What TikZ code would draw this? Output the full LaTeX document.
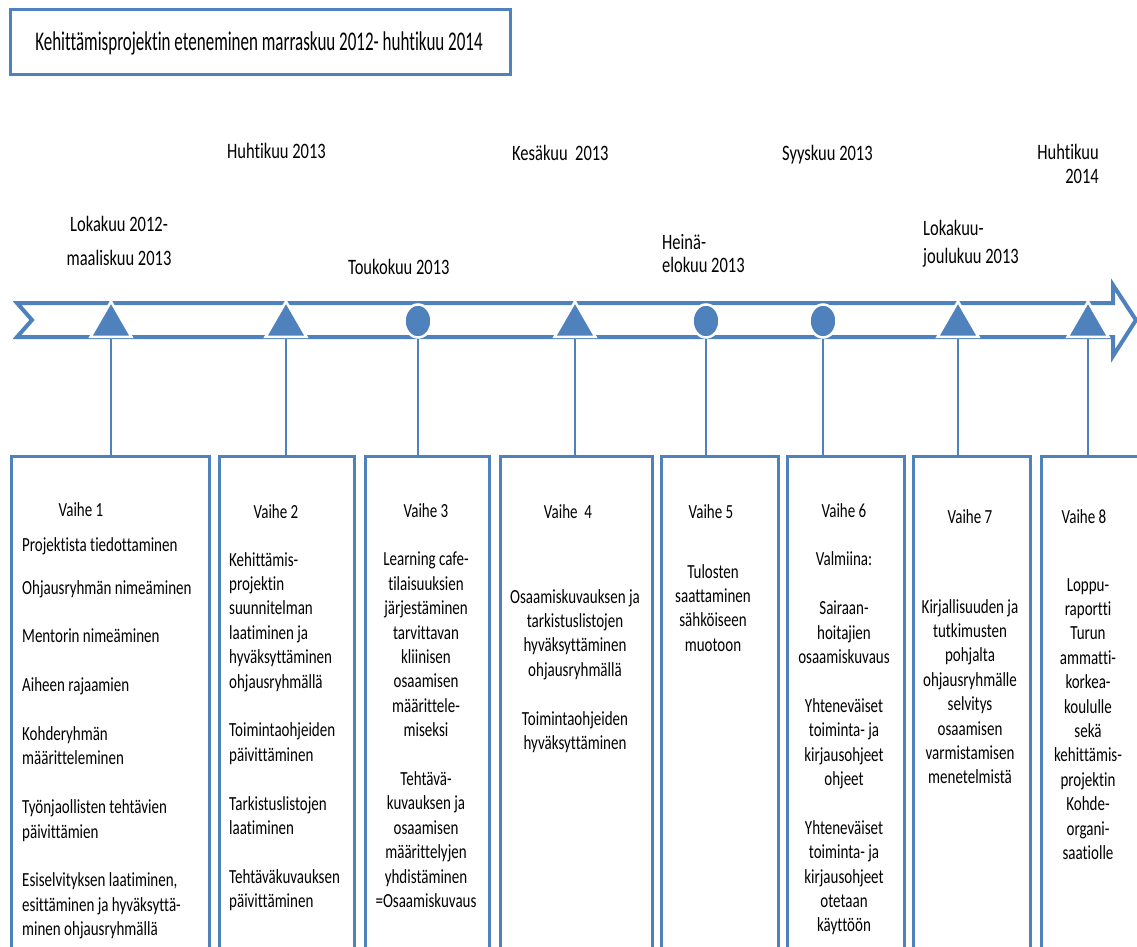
\documentclass[tikz,border=0pt]{standalone}
\usepackage{fontspec}
\setmainfont{Carlito}[FakeStretch=0.75, Ligatures=NoCommon]
\newfontfamily\titlefont{Carlito}[FakeStretch=0.63, Ligatures=NoCommon]
\usetikzlibrary{shapes.geometric}
\definecolor{tlblue}{HTML}{4F81BD}
% multi-line blocks whose baseline is the baseline of their first line
\newcommand{\blockC}[1]{\begin{tabular}[t]{@{}c@{}}#1\end{tabular}}
\newcommand{\blockL}[1]{\begin{tabular}[t]{@{}l@{}}#1\end{tabular}}
\newcommand{\blockR}[1]{\begin{tabular}[t]{@{}r@{}}#1\end{tabular}}
\tikzset{
  frame/.style={draw=tlblue, line width=3pt, fill=white},
  stagebox/.style={frame, anchor=north west, inner sep=0pt, minimum height=520pt},
  boxtxt/.style={font=\fontsize{20}{24.4}\selectfont, inner sep=0pt, anchor=base},
  listtxt/.style={boxtxt, anchor=base west},
  datetxt/.style={font=\fontsize{22}{24.4}\selectfont, inner sep=0pt, anchor=base west},
  tri/.style={regular polygon, regular polygon sides=3, fill=tlblue, draw=white, line width=2.5pt, minimum size=47pt, inner sep=0pt},
  dot/.style={ellipse, fill=tlblue, draw=white, line width=2.5pt, minimum width=27pt, minimum height=33pt, inner sep=0pt},
  stem/.style={draw=tlblue, line width=1.6pt},
}
\begin{document}
\begin{tikzpicture}[x=1pt, y=-1pt]
\useasboundingbox (0,0) rectangle (1137,947);
\clip (0,0) rectangle (1137,947);

% title
\draw[frame] (10,10) rectangle (510,75);
\node[font=\titlefont\fontsize{27}{30}\selectfont, inner sep=0pt, anchor=base] (title) at (259,51)
  {Kehittämisprojektin eteneminen marraskuu 2012- huhtikuu 2014};

% time labels
\node[datetxt, anchor=base] (d1) at (119,231) {\blockC{Lokakuu 2012-\\[9.6pt]maaliskuu 2013}};
\node[datetxt] (d2) at (227,158) {Huhtikuu 2013};
\node[datetxt] (d3) at (348,274) {Toukokuu 2013};
\node[datetxt] (d4) at (512,160) {Kesäkuu\ \ 2013};
\node[datetxt] (d5) at (662,249) {\blockL{Heinä-\\[-1.4pt]elokuu 2013}};
\node[datetxt] (d6) at (782,160) {Syyskuu 2013};
\node[datetxt] (d7) at (923,235) {\blockL{Lokakuu-\\[3.6pt]joulukuu 2013}};
\node[datetxt, anchor=base east] (d8) at (1099,159) {\blockR{Huhtikuu\\2014}};

% timeline arrow
\draw[tlblue, line width=4pt, line join=miter, fill=white]
  (17,303) -- (1113,303) -- (1113,285) -- (1136,320) -- (1113,356) -- (1113,337)
  -- (17,337) -- (32,320) -- cycle;

% stage boxes
\node[stagebox, minimum width=198pt] (b1) at (10,455) {};
\node[stagebox, minimum width=135pt] (b2) at (218,455) {};
\node[stagebox, minimum width=124pt] (b3) at (364,455) {};
\node[stagebox, minimum width=152pt] (b4) at (499,455) {};
\node[stagebox, minimum width=117pt] (b5) at (660,455) {};
\node[stagebox, minimum width=117pt] (b6) at (786,455) {};
\node[stagebox, minimum width=117pt] (b7) at (912,455) {};
\node[stagebox, minimum width=110pt] (b8) at (1040,455) {};

% milestone markers
\coordinate (m1) at (111,320);
\coordinate (m2) at (286,320);
\coordinate (m3) at (418,321);
\coordinate (m4) at (575,320);
\coordinate (m5) at (706,321);
\coordinate (m6) at (823,321);
\coordinate (m7) at (958,320);
\coordinate (m8) at (1088,320);
\foreach \i in {1,...,8} { \draw[stem] (m\i) -- (m\i |- b\i.north); }
\foreach \i in {1,2,4,7,8} { \node[tri] (k\i) at ([yshift=-5pt]m\i) {}; }
\foreach \i in {3,5,6} { \node[dot] (k\i) at (m\i) {}; }

% stage 1
\node[boxtxt] (v1) at (81,516) {Vaihe 1};
\node[listtxt] (s1a) at (22,551) {Projektista tiedottaminen};
\node[listtxt] (s1b) at (22,594) {\blockL{Ohjausryhmän nimeäminen\\[24.4pt]Mentorin nimeäminen\\[24.4pt]Aiheen rajaamien\\[24.4pt]Kohderyhmän\\määritteleminen\\[24.4pt]Työnjaollisten tehtävien\\päivittämien\\[24.4pt]Esiselvityksen laatiminen,\\esittäminen ja hyväksyttä-\\minen ohjausryhmällä}};

% stage 2
\node[boxtxt] (v2) at (276,518) {Vaihe 2};
\node[listtxt] (s2) at (229,566) {\blockL{Kehittämis-\\projektin\\suunnitelman\\laatiminen ja\\hyväksyttäminen\\ohjausryhmällä\\[24.4pt]Toimintaohjeiden\\päivittäminen\\[24.4pt]Tarkistuslistojen\\laatiminen\\[24.4pt]Tehtäväkuvauksen\\päivittäminen}};

% stage 3
\node[boxtxt] (s3) at (426,517) {\blockC{Vaihe 3\\[24.4pt]Learning cafe-\\tilaisuuksien\\järjestäminen\\tarvittavan\\kliinisen\\osaamisen\\määrittele-\\miseksi\\[24.4pt]Tehtävä-\\kuvauksen ja\\osaamisen\\määrittelyjen\\yhdistäminen\\=Osaamiskuvaus}};

% stage 4
\node[boxtxt] (v4) at (568,518) {Vaihe\ \ 4};
\node[boxtxt] (s4) at (575,603) {\blockC{Osaamiskuvauksen ja\\tarkistuslistojen\\hyväksyttäminen\\ohjausryhmällä\\[24.4pt]Toimintaohjeiden\\hyväksyttäminen}};

% stage 5
\node[boxtxt] (v5) at (711,518) {Vaihe 5};
\node[boxtxt] (s5) at (713,578) {\blockC{Tulosten\\saattaminen\\sähköiseen\\muotoon}};

% stage 6
\node[boxtxt] (s6) at (844,517) {\blockC{Vaihe 6\\[24.4pt]Valmiina:\\[24.4pt]Sairaan-\\hoitajien\\osaamiskuvaus\\[24.4pt]Yhteneväiset\\toiminta- ja\\kirjausohjeet\\ohjeet\\[24.4pt]Yhteneväiset\\toiminta- ja\\kirjausohjeet\\otetaan\\käyttöön}};

% stage 7
\node[boxtxt] (v7) at (970,523) {Vaihe 7};
\node[boxtxt] (s7) at (970,613) {\blockC{Kirjallisuuden ja\\tutkimusten\\pohjalta\\ohjausryhmälle\\selvitys\\osaamisen\\varmistamisen\\menetelmistä}};

% stage 8
\node[boxtxt] (v8) at (1084,523) {Vaihe 8};
\node[boxtxt] (s8) at (1088,591) {\blockC{Loppu-\\raportti\\Turun\\ammatti-\\korkea-\\koululle\\sekä\\kehittämis-\\projektin\\Kohde-\\organi-\\saatiolle}};
\end{tikzpicture}
\end{document}
